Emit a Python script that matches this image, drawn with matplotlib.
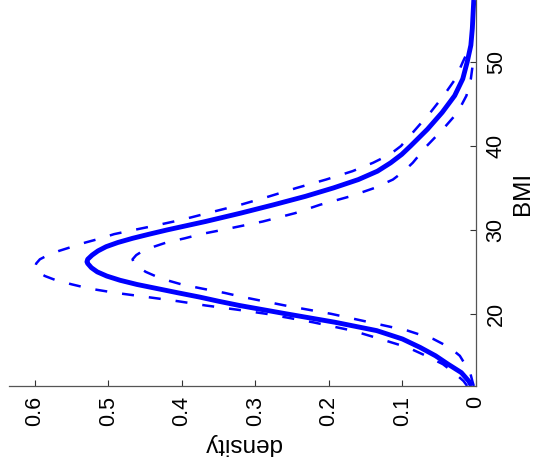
import matplotlib
matplotlib.use("Agg")
import matplotlib.pyplot as plt

plt.rcParams['font.family'] = ['Liberation Sans', 'DejaVu Sans']

# fitted density (solid)
bmi_fit = [11.4, 12, 13, 14, 15, 16, 17, 18, 19, 20, 21, 21.5, 22, 22.5, 23, 23.5, 24, 24.5,
           25, 25.5, 26, 26.2, 26.5, 27, 27.5, 28, 28.5, 29, 29.5, 30, 30.5, 31, 31.5, 32,
           33, 34, 35, 36, 37, 38, 39, 40, 42, 44, 46, 48, 50, 52, 54, 57.4]
dens_fit = [0.006, 0.010, 0.020, 0.038, 0.055, 0.076, 0.100, 0.135, 0.192, 0.258, 0.322,
            0.350, 0.376, 0.405, 0.433, 0.461, 0.484, 0.502, 0.515, 0.523, 0.528, 0.529,
            0.528, 0.522, 0.514, 0.503, 0.487, 0.467, 0.444, 0.420, 0.394, 0.368, 0.344,
            0.320, 0.275, 0.232, 0.194, 0.160, 0.134, 0.116, 0.101, 0.089, 0.066, 0.046,
            0.029, 0.018, 0.012, 0.007, 0.005, 0.003]

# upper band (dashed, outer)
bmi_up = [11.4, 12, 13, 14, 15, 16, 17, 18, 19, 20, 20.5, 21, 21.5, 22, 22.5, 23, 23.5, 24,
          24.5, 25, 25.4, 26, 26.5, 27, 27.5, 28, 28.5, 29, 29.5, 30, 30.5, 31, 31.5, 32,
          33, 34, 35, 36, 37, 38, 39, 40, 42, 44, 46, 48, 50, 51.5]
dens_up = [0.012, 0.017, 0.030, 0.045, 0.068, 0.093, 0.130, 0.168, 0.222, 0.285, 0.325,
           0.368, 0.405, 0.447, 0.490, 0.525, 0.549, 0.571, 0.586, 0.596, 0.600, 0.598,
           0.593, 0.582, 0.567, 0.549, 0.531, 0.510, 0.492, 0.465, 0.437, 0.411, 0.387,
           0.365, 0.320, 0.281, 0.244, 0.204, 0.168, 0.140, 0.117, 0.102, 0.082, 0.062,
           0.044, 0.028, 0.018, 0.010]

# lower band (dashed, inner)
bmi_lo = [11.4, 12, 13, 14, 15, 16, 17, 18, 19, 20, 21, 22, 22.5, 23, 23.5, 24, 24.5, 25,
          25.5, 26, 26.5, 27, 27.5, 28, 28.5, 29, 29.5, 30, 31, 32, 33, 34, 35, 36, 37, 38,
          40, 42, 44, 46, 48, 50]
dens_lo = [0.003, 0.005, 0.008, 0.015, 0.022, 0.036, 0.058, 0.093, 0.145, 0.197, 0.260,
           0.317, 0.342, 0.372, 0.400, 0.420, 0.436, 0.449, 0.458, 0.465, 0.467, 0.462,
           0.453, 0.438, 0.421, 0.396, 0.374, 0.345, 0.290, 0.246, 0.212, 0.171, 0.138,
           0.113, 0.098, 0.086, 0.067, 0.045, 0.025, 0.013, 0.007, 0.004]

dens_ticks = [0, 0.1, 0.2, 0.3, 0.4, 0.5, 0.6]
dens_labels = ['0', '0.1', '0.2', '0.3', '0.4', '0.5', '0.6']
bmi_ticks = [20, 30, 40, 50]

fig = plt.figure(figsize=(5.37, 4.70), dpi=100)
ax = fig.add_axes([9 / 537, 84 / 470, 467 / 537, 386 / 470])

# the chart is shown turned a quarter turn: density runs right-to-left, BMI bottom-to-top
ax.plot(dens_fit, bmi_fit, color='#0000ff', lw=3.5, solid_capstyle='butt',
        solid_joinstyle='round')
ax.plot(dens_up, bmi_up, color='#0000ff', lw=1.8, ls=(0, (4.8, 6.0)), dash_capstyle='butt')
ax.plot(dens_lo, bmi_lo, color='#0000ff', lw=1.8, ls=(0, (4.8, 6.0)), dash_capstyle='butt')

ax.set_xlim(0.635, 0)
ax.set_ylim(11.4, 57.4)

ax.spines['top'].set_visible(False)
ax.spines['left'].set_visible(False)
for s in ('bottom', 'right'):
    ax.spines[s].set_color('#555555')
    ax.spines[s].set_linewidth(0.9)

ax.yaxis.tick_right()
ax.yaxis.set_label_position('right')
ax.set_xticks(dens_ticks)
ax.set_xticklabels(dens_labels, rotation=90)
ax.set_yticks(bmi_ticks)
ax.set_yticklabels([str(t) for t in bmi_ticks], rotation=90, va='center')
ax.tick_params(direction='in', length=4, width=0.8, color='#333333',
               labelsize=15.5, pad=7)

ax.set_xlabel('density', fontsize=17.5, rotation=180, labelpad=5)
ax.set_ylabel('BMI', fontsize=17.5, rotation=90, labelpad=4)

fig.savefig('out.png', dpi=100)
